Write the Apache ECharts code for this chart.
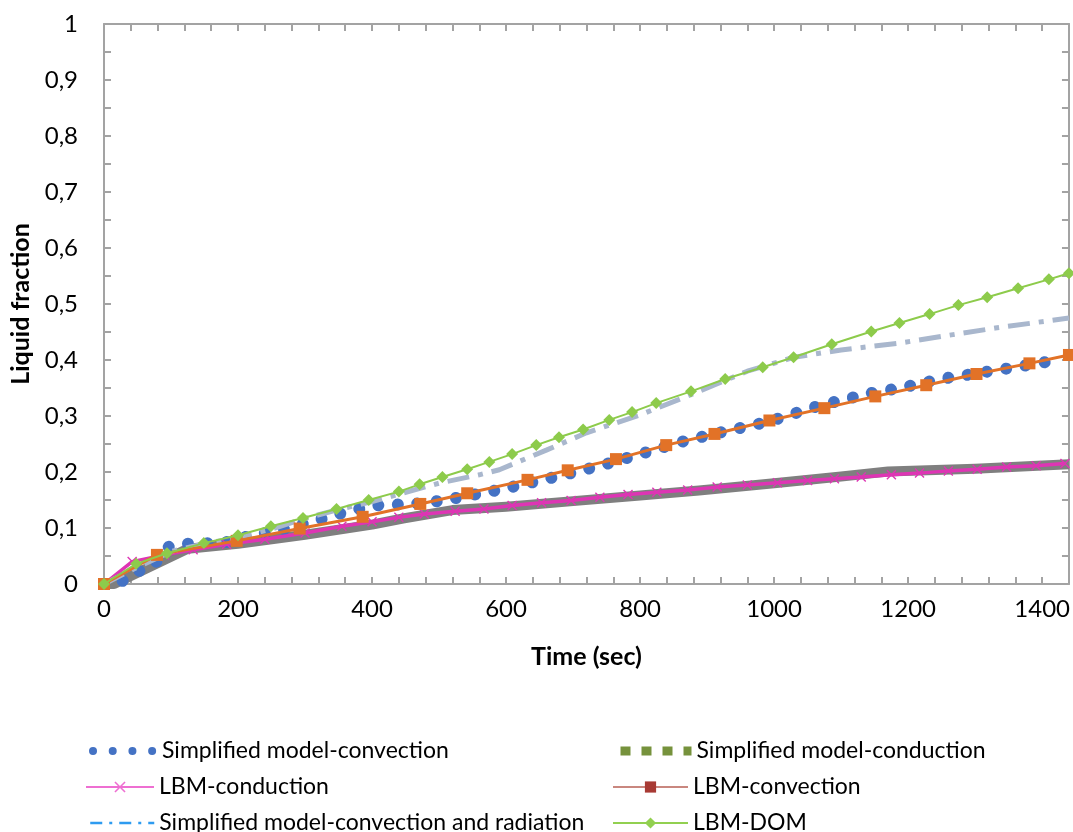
<!DOCTYPE html>
<html>
<head>
<meta charset="utf-8">
<script src="https://cdn.jsdelivr.net/npm/echarts@6/dist/echarts.min.js"></script>
<style>
  html, body { margin: 0; padding: 0; background: #fff; }
  #chart { width: 1073px; height: 832px; }
</style>
</head>
<body>
<div id="chart"></div>
<script>
// Liquid fraction vs time, [time (sec), fraction] pairs per model
const simpleConvection = [
  [0, 0], [20, 0], [52, 0.023], [77, 0.038], [95, 0.066], [124, 0.072], [177, 0.073],
  [207, 0.083], [262, 0.096], [300, 0.108], [350, 0.125], [400, 0.140], [455, 0.143],
  [483, 0.145], [537, 0.156], [593, 0.169], [648, 0.184], [704, 0.200], [758, 0.217],
  [812, 0.236], [865, 0.255], [917, 0.270], [992, 0.290], [1066, 0.318], [1141, 0.340],
  [1192, 0.351], [1248, 0.366], [1302, 0.376], [1359, 0.387], [1414, 0.398], [1420, 0.399]
];
const simpleConduction = [
  [0, 0], [15, 0], [125, 0.063], [200, 0.072], [300, 0.088], [400, 0.106], [446, 0.117],
  [520, 0.132], [600, 0.138], [700, 0.148], [800, 0.158], [888, 0.167], [1000, 0.180],
  [1100, 0.192], [1170, 0.201], [1300, 0.206], [1440, 0.214]
];
const lbmConduction = [
  [0, 0], [42, 0.040], [90, 0.052], [133, 0.061], [183, 0.071], [240, 0.080], [300, 0.091],
  [355, 0.103], [400, 0.111], [440, 0.119], [478, 0.125], [524, 0.130], [567, 0.134],
  [609, 0.140], [653, 0.145], [697, 0.149], [740, 0.155], [782, 0.160], [825, 0.164],
  [871, 0.168], [915, 0.173], [960, 0.177], [1005, 0.181], [1050, 0.185], [1090, 0.188],
  [1130, 0.191], [1175, 0.195], [1217, 0.198], [1260, 0.202], [1303, 0.205], [1347, 0.209],
  [1391, 0.211], [1434, 0.215]
];
const lbmConvection = [
  [0, 0], [79, 0.052], [198, 0.077], [292, 0.099], [386, 0.120], [472, 0.143], [542, 0.162],
  [632, 0.186], [692, 0.203], [764, 0.223], [839, 0.248], [911, 0.268], [993, 0.292],
  [1075, 0.314], [1151, 0.335], [1227, 0.355], [1302, 0.375], [1381, 0.394], [1440, 0.409]
];
const simpleConvRad = [
  [0, 0], [50, 0.030], [100, 0.058], [150, 0.072], [200, 0.083], [250, 0.098], [300, 0.117],
  [350, 0.133], [400, 0.147], [445, 0.162], [500, 0.180], [560, 0.195], [590, 0.204],
  [660, 0.239], [720, 0.270], [800, 0.302], [880, 0.340], [960, 0.380], [1030, 0.405],
  [1100, 0.418], [1186, 0.430], [1260, 0.444], [1330, 0.457], [1440, 0.475]
];
const lbmDom = [
  [0, 0], [48, 0.036], [94, 0.055], [149, 0.073], [200, 0.087], [249, 0.103], [297, 0.118],
  [347, 0.134], [395, 0.150], [440, 0.165], [471, 0.178], [505, 0.191], [542, 0.205],
  [575, 0.218], [609, 0.232], [645, 0.248], [679, 0.262], [715, 0.276], [754, 0.293],
  [788, 0.307], [824, 0.323], [876, 0.344], [927, 0.366], [983, 0.387], [1029, 0.405],
  [1086, 0.428], [1145, 0.451], [1187, 0.466], [1232, 0.482], [1275, 0.498], [1318, 0.512],
  [1364, 0.528], [1410, 0.544], [1440, 0.555]
];

const seriesNames = [
  'Simplified model-convection',
  'Simplified model-conduction',
  'LBM-conduction',
  'LBM-convection',
  'Simplified model-convection and radiation',
  'LBM-DOM'
];

const FONT = 'Lato';
const AXIS_GRAY = '#A3A3A3';
const X_MARK = 'path://M0,1 L1,0 L5,4 L9,0 L10,1 L6,5 L10,9 L9,10 L5,6 L1,10 L0,9 L4,5 Z';

function xLabel(v) { return v % 200 === 0 ? String(v) : ''; }
function yLabel(v) {
  const r = Math.round(v * 100);
  if (r % 10 !== 0) return '';
  if (r === 0) return '0';
  if (r === 100) return '1';
  return (r / 100).toFixed(1).replace('.', ',');
}

const boxLine = { show: true, onZero: false, lineStyle: { color: AXIS_GRAY, width: 2 } };
const boxTick = { show: true, inside: true, length: 7, lineStyle: { color: AXIS_GRAY, width: 2 } };

// one legend block per entry, laid out as two columns of three rows
const hiddenMark = { opacity: 0, color: 'rgba(0,0,0,0)', borderWidth: 0 };
function legendBlock(left, top, width, entry) {
  return {
    orient: 'horizontal', left: left, top: top, padding: 0,
    itemWidth: width, itemHeight: 14, selectedMode: false,
    textStyle: { fontSize: 23, color: '#000', fontFamily: FONT, lineHeight: 24 },
    data: [entry]
  };
}

const option = {
  backgroundColor: '#fff',
  animation: false,
  textStyle: { fontFamily: FONT },
  grid: { left: 104, right: 2, top: 24, bottom: 248 },
  xAxis: [
    {
      type: 'value', min: 0, max: 1440, interval: 40, position: 'bottom',
      name: 'Time (sec)', nameLocation: 'middle', nameGap: 60,
      nameTextStyle: { fontSize: 25, fontWeight: 'bold', color: '#000', fontFamily: FONT },
      axisLine: boxLine, axisTick: boxTick,
      axisLabel: { fontSize: 24, color: '#000', margin: 13, formatter: xLabel, fontFamily: FONT },
      splitLine: { show: false }
    },
    {
      type: 'value', min: 0, max: 1440, interval: 40, position: 'top',
      axisLine: boxLine, axisTick: boxTick,
      axisLabel: { show: false }, splitLine: { show: false }
    }
  ],
  yAxis: [
    {
      type: 'value', min: 0, max: 1, interval: 0.05, position: 'left',
      name: 'Liquid fraction', nameLocation: 'middle', nameGap: 66,
      nameTextStyle: { fontSize: 25, fontWeight: 'bold', color: '#000', fontFamily: FONT },
      axisLine: boxLine, axisTick: boxTick,
      axisLabel: { fontSize: 24, color: '#000', margin: 26, formatter: yLabel, fontFamily: FONT },
      splitLine: { show: false }
    },
    {
      type: 'value', min: 0, max: 1, interval: 0.05, position: 'right',
      axisLine: boxLine, axisTick: boxTick,
      axisLabel: { show: false }, splitLine: { show: false }
    }
  ],
  legend: [
    legendBlock(85, 739, 68, { name: seriesNames[0], itemStyle: hiddenMark,
      lineStyle: { color: '#4472C4', width: 8, type: [0.01, 19.7], cap: 'round', dashOffset: -4 } }),
    legendBlock(85, 775, 68, { name: seriesNames[2], itemStyle: { color: '#EE6FD2' },
      lineStyle: { color: '#EE6FD2', width: 2 } }),
    legendBlock(85, 811, 68, { name: seriesNames[4], itemStyle: hiddenMark,
      lineStyle: { color: '#2E9BF0', width: 2.5, type: [12, 7, 3, 7] } }),
    legendBlock(612, 739, 75, { name: seriesNames[1], itemStyle: hiddenMark,
      lineStyle: { color: '#76923C', width: 9, type: [10, 11], cap: 'butt' } }),
    legendBlock(612, 775, 75, { name: seriesNames[3], itemStyle: { color: '#A83A34' },
      lineStyle: { color: '#C9877F', width: 2 } }),
    legendBlock(612, 811, 75, { name: seriesNames[5], itemStyle: { color: '#92D050' },
      lineStyle: { color: '#92D050', width: 2 } })
  ],
  series: [
    {
      name: seriesNames[0], type: 'line', data: simpleConvection, symbol: 'none', z: 3,
      lineStyle: { color: '#4472C4', width: 12, type: [0.01, 19.5], cap: 'round' },
      itemStyle: { color: '#4472C4' }
    },
    {
      name: seriesNames[1], type: 'line', data: simpleConduction, symbol: 'none', z: 2,
      lineStyle: { color: '#7F7F7F', width: 10, join: 'round' },
      itemStyle: { color: '#7F7F7F' }
    },
    {
      name: seriesNames[2], type: 'line', data: lbmConduction, symbol: X_MARK, symbolSize: 10, z: 4,
      lineStyle: { color: '#DE35B4', width: 3.5 },
      itemStyle: { color: '#DE35B4' }
    },
    {
      name: seriesNames[3], type: 'line', data: lbmConvection, symbol: 'rect', symbolSize: 12, z: 6,
      lineStyle: { color: '#E27227', width: 3 },
      itemStyle: { color: '#E27227' }
    },
    {
      name: seriesNames[4], type: 'line', data: simpleConvRad, symbol: 'none', z: 5,
      lineStyle: { color: '#A9B7CD', width: 5, type: [22, 9, 5, 9] },
      itemStyle: { color: '#A9B7CD' }
    },
    {
      name: seriesNames[5], type: 'line', data: lbmDom, symbol: 'diamond', symbolSize: 12, z: 7,
      lineStyle: { color: '#8DCB4B', width: 2 },
      itemStyle: { color: '#8DCB4B' }
    }
  ]
};

const chart = echarts.init(document.getElementById('chart'), null, { renderer: 'canvas' });
chart.setOption(option);
</script>
</body>
</html>
